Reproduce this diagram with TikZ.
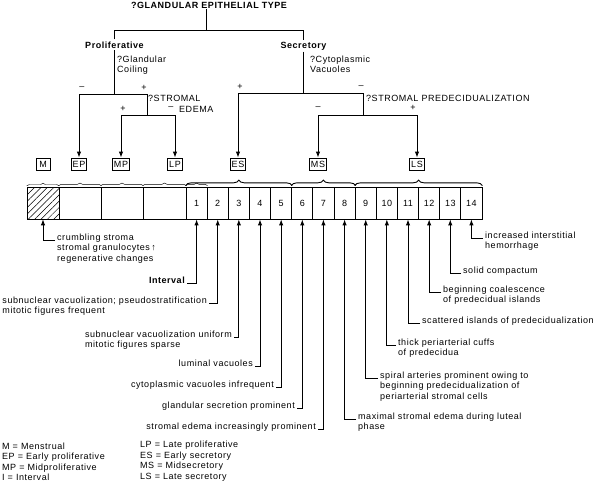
\documentclass[tikz,border=0pt]{standalone}
\usepackage{fontspec}
\setmainfont{Liberation Sans}[LetterSpace=6]
\usetikzlibrary{arrows.meta,decorations.pathreplacing,patterns.meta}
\newcommand\fsz{\fontsize{9}{10.5}\selectfont}
\begin{document}
\begin{tikzpicture}[x=1pt,y=-1pt,
  txt/.style={font=\fsz, inner sep=0pt},
  lw/.style={txt, anchor=base west},
  le/.style={txt, anchor=base east},
  sgn/.style={txt, anchor=center},
  hd/.style={txt, font=\fsz\bfseries, anchor=base},
  stagebox/.style={draw, line width=0.7pt, font=\fsz, inner sep=1.5pt, minimum height=12pt, minimum width=14pt},
  cell/.style={draw, line width=0.8pt, minimum height=32pt, inner sep=0pt, font=\fsz},
  tree/.style={line width=0.75pt},
  arr/.style={line width=0.9pt, -{Latex[length=6pt,width=4.4pt]}},
  thinbrace/.style={decorate, decoration={brace, amplitude=2.5pt}, line width=0.45pt},
  thickbrace/.style={decorate, decoration={brace, amplitude=5.5pt}, line width=0.9pt},
]
\useasboundingbox (0,0) rectangle (595,483);

% ---------- decision tree ----------
\node[hd] (top) at (209,8.5) {?GLANDULAR EPITHELIAL TYPE};
\node[hd] (prolif) at (114.5,48) {Proliferative};
\node[hd] (secr) at (303.5,48) {Secretory};
\coordinate (jt) at (206,30);
\draw[tree] (top.south -| jt) -- (jt);
\draw[tree] ([yshift=2pt]prolif.north) -- (prolif.north |- jt) -- (secr.north |- jt) -- ([yshift=2pt]secr.north);

% proliferative branch
\node[lw] (qgc1) at (117,62.5) {?Glandular};
\node[lw] (qgc2) at (117,72.5) {Coiling};
\coordinate (pm) at (79,94);
\coordinate (pp) at (147,94);
\draw[tree] ([yshift=-1.5pt]prolif.south) -- (prolif.south |- pm);
\draw[tree] (pm) -- (pp);
\node[sgn] (s1) at (82,88) {–};
\node[sgn] (s2) at (144,88) {+};
\node[lw] (qse1) at (148,101) {?STROMAL};
\node[sgn] (s3) at (171,108.5) {–};
\node[lw] (qse2) at (179,112) {EDEMA};
\node[sgn] (s4) at (123,108.5) {+};
\coordinate (sm) at (121,115);
\coordinate (sp) at (175,115);
\draw[tree] (pp) -- (pp |- sm);
\draw[tree] (sm) -- (sp);

% secretory branch
\node[lw] (qcv1) at (310,62.5) {?Cytoplasmic};
\node[lw] (qcv2) at (310,72.5) {Vacuoles};
\coordinate (cp) at (238,93);
\coordinate (cm) at (363,93);
\draw[tree] ([yshift=-1.5pt]secr.south) -- (secr.south |- cp);
\draw[tree] (cp) -- (cm);
\node[sgn] (s5) at (240,87) {+};
\node[sgn] (s6) at (361,87) {–};
\node[lw] (qsp) at (366,101) {?STROMAL PREDECIDUALIZATION};
\node[sgn] (s7) at (318,108) {–};
\node[sgn] (s8) at (413,108) {+};
\coordinate (dm) at (318,115);
\coordinate (dp) at (417,115);
\draw[tree] (cm) -- (cm |- dm);
\draw[tree] (dm) -- (dp);

% stage boxes
\node[stagebox] (M)  at (43,164)  {M};
\node[stagebox] (EP) at (79,164)  {EP};
\node[stagebox] (MP) at (121,164) {MP};
\node[stagebox] (LP) at (175,164) {LP};
\node[stagebox] (ES) at (238,164) {ES};
\node[stagebox] (MS) at (318,164) {MS};
\node[stagebox] (LS) at (417,164) {LS};

\draw[arr] (pm) -- (EP);
\draw[arr] (sm) -- (MP);
\draw[arr] (sp) -- (LP);
\draw[arr] (cp) -- (ES);
\draw[arr] (dm) -- (MS);
\draw[arr] (dp) -- (LS);

% ---------- strip ----------
\node[cell, minimum width=32pt, pattern={Lines[angle=45,distance=4.5pt,line width=0.5pt]}] (cM) at (43,203) {};
\node[cell, minimum width=42pt] (cEP) at (80,203) {};
\node[cell, minimum width=42pt] (cMP) at (122,203) {};
\node[cell, minimum width=43pt] (cLP) at (164.5,203) {};
\foreach \k in {1,...,14}
  \node[cell, minimum width=21.143pt] (c\k) at ({186+21.143*(\k-0.5)},203) {\k};

% braces
\draw[thinbrace] ([yshift=1pt]cM.north west) -- ([yshift=1pt]cM.north east);
\draw[thinbrace] ([yshift=1pt]cEP.north west) -- ([yshift=1pt]cEP.north east);
\draw[thinbrace] ([yshift=1pt]cMP.north west) -- ([yshift=1pt]cMP.north east);
\draw[thinbrace] ([yshift=1pt]cLP.north west) -- ([yshift=1pt]cLP.north east);
\draw[thinbrace] ([yshift=1pt]c1.north west) -- ([yshift=1pt]c1.north east);
\draw[thickbrace] ([yshift=1pt]c1.north west) -- ([yshift=1pt]c5.north east);
\draw[thickbrace] ([yshift=1pt]c6.north west) -- ([yshift=1pt]c8.north east);
\draw[thickbrace] ([yshift=1pt]c9.north west) -- ([yshift=1pt]c14.north east);

% ---------- lower labels ----------
\node[lw] (tM) at (57,240) {crumbling stroma};
\node[lw] (tMb) at ([yshift=-10.5pt]tM.base west) {stromal granulocytes\,{\bfseries ↑}};
\node[lw] (tMc) at ([yshift=-10.5pt]tMb.base west) {regenerative changes};
\draw[arr] ([xshift=-2pt]tM.base west) -| (cM.south);

\node[le, font=\fsz\bfseries] (tI) at (185,283) {Interval};
\draw[arr] ([xshift=2pt]tI.base east) -| (c1.south);

\node[le] (t2) at (207,303) {subnuclear vacuolization; pseudostratification};
\node[lw] (t2b) at ([yshift=-10.5pt]t2.base west) {mitotic figures frequent};
\draw[arr] ([xshift=2pt]t2.base east) -| (c2.south);

\node[le] (t3) at (232,337) {subnuclear vacuolization uniform};
\node[lw] (t3b) at ([yshift=-10.5pt]t3.base west) {mitotic figures sparse};
\draw[arr] ([xshift=2pt]t3.base east) -| (c3.south);

\node[le] (t4) at (253,366) {luminal vacuoles};
\draw[arr] ([xshift=2pt]t4.base east) -| (c4.south);

\node[le] (t5) at (274,387) {cytoplasmic vacuoles infrequent};
\draw[arr] ([xshift=2pt]t5.base east) -| (c5.south);

\node[le] (t6) at (295,408) {glandular secretion prominent};
\draw[arr] ([xshift=2pt]t6.base east) -| (c6.south);

\node[le] (t7) at (316,429) {stromal edema increasingly prominent};
\draw[arr] ([xshift=2pt]t7.base east) -| (c7.south);

\node[lw] (t8) at (358,419) {maximal stromal edema during luteal};
\node[lw] (t8b) at ([yshift=-10.5pt]t8.base west) {phase};
\draw[arr] ([xshift=-2pt]t8.base west) -| (c8.south);

\node[lw] (t9) at (380,378) {spiral arteries prominent owing to};
\node[lw] (t9b) at ([yshift=-10.5pt]t9.base west) {beginning predecidualization of};
\node[lw] (t9c) at ([yshift=-10.5pt]t9b.base west) {periarterial stromal cells};
\draw[arr] ([xshift=-2pt]t9.base west) -| (c9.south);

\node[lw] (t10) at (398,345) {thick periarterial cuffs};
\node[lw] (t10b) at ([yshift=-10.5pt]t10.base west) {of predecidua};
\draw[arr] ([xshift=-2pt]t10.base west) -| (c10.south);

\node[lw] (t11) at (422,323) {scattered islands of predecidualization};
\draw[arr] ([xshift=-2pt]t11.base west) -| (c11.south);

\node[lw] (t12) at (443,292) {beginning coalescence};
\node[lw] (t12b) at ([yshift=-10.5pt]t12.base west) {of predecidual islands};
\draw[arr] ([xshift=-2pt]t12.base west) -| (c12.south);

\node[lw] (t13) at (463,273) {solid compactum};
\draw[arr] ([xshift=-2pt]t13.base west) -| (c13.south);

\node[lw] (t14) at (485,238) {increased interstitial};
\node[lw] (t14b) at ([yshift=-10.5pt]t14.base west) {hemorrhage};
\draw[arr] ([xshift=-2pt]t14.base west) -| (c14.south);

% ---------- legend ----------
\node[lw] (g1) at (2,449) {M = Menstrual};
\node[lw] (g2) at (2,459.5) {EP = Early proliferative};
\node[lw] (g3) at (2,470) {MP = Midproliferative};
\node[lw] (g4) at (2,480.5) {I = Interval};
\node[lw] (g5) at (140,447.5) {LP = Late proliferative};
\node[lw] (g6) at (140,458) {ES = Early secretory};
\node[lw] (g7) at (140,468.5) {MS = Midsecretory};
\node[lw] (g8) at (140,479) {LS = Late secretory};
\end{tikzpicture}
\end{document}
